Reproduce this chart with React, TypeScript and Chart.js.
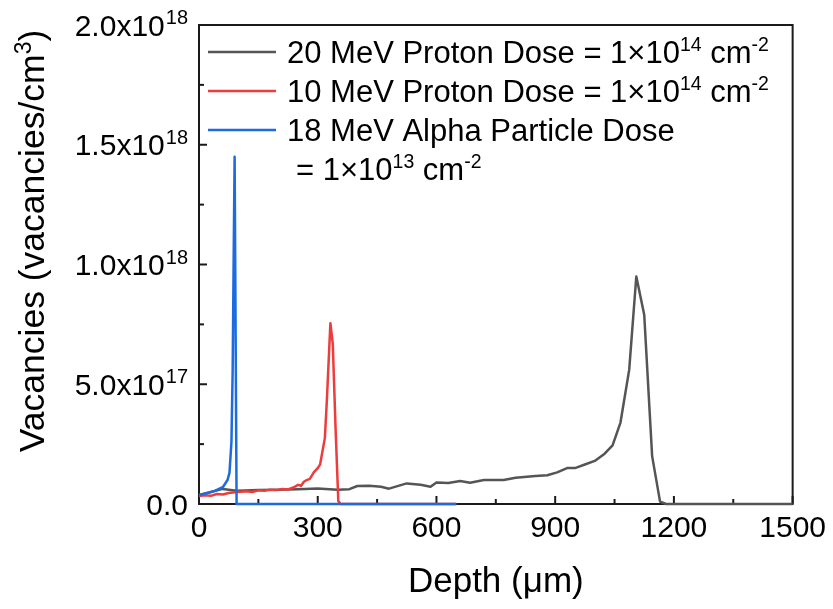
import React, { useEffect, useRef } from "react";
import { Chart, registerables } from "chart.js";

Chart.register(...registerables);

// ---- data (depth in µm, vacancies per cm^3) ----
const grayDepth = [0, 30, 60, 95, 150, 200, 250, 300, 350, 380, 400, 430, 460, 480, 525, 560, 585, 600, 630, 660, 685, 720, 770, 800, 850, 880, 905, 930, 950, 975, 1000, 1025, 1045, 1065, 1087, 1105, 1125, 1145, 1165, 1180, 1500];
const grayVac = [3.8e16, 5.0e16, 6.3e16, 5.5e16, 5.8e16, 6.0e16, 6.2e16, 6.5e16, 6.0e16, 6.2e16, 7.5e16, 7.6e16, 7.2e16, 6.4e16, 8.6e16, 8.0e16, 7.2e16, 9.0e16, 8.8e16, 9.6e16, 8.9e16, 1.0e17, 1.0e17, 1.1e17, 1.17e17, 1.2e17, 1.32e17, 1.5e17, 1.5e17, 1.65e17, 1.8e17, 2.1e17, 2.45e17, 3.4e17, 5.6e17, 9.5e17, 7.9e17, 2.0e17, 1.0e16, 0, 0];

const redDepth = [0, 15, 30, 45, 60, 75, 90, 105, 120, 135, 150, 165, 180, 195, 210, 225, 240, 250, 258, 265, 272, 280, 290, 300, 306, 312, 318, 323, 332, 338, 345, 352, 358, 650];
const redVac = [3.3e16, 3.6e16, 3.4e16, 4.2e16, 4.0e16, 4.6e16, 4.9e16, 5.1e16, 5.3e16, 5.0e16, 5.7e16, 5.5e16, 6.0e16, 5.8e16, 6.3e16, 6.1e16, 7.0e16, 8.0e16, 7.6e16, 9.3e16, 1.0e17, 1.05e17, 1.32e17, 1.5e17, 1.65e17, 2.2e17, 2.75e17, 4.3e17, 7.55e17, 6.7e17, 3.2e17, 1.2e16, 0, 0];

const blueDepth = [0, 20, 40, 61, 72, 77, 82, 85, 88, 90, 95, 650];
const blueVac = [3.7e16, 4.5e16, 5.5e16, 7.2e16, 1.0e17, 1.3e17, 2.6e17, 5.5e17, 1.1e18, 1.45e18, 0, 0];

const xTickValues = [0, 300, 600, 900, 1200, 1500];
const yTickValues = [0, 5e17, 1e18, 1.5e18, 2e18];
const yTickMantissa = ["0.0", "5.0x10", "1.0x10", "1.5x10", "2.0x10"];
const yTickExponent = ["", "17", "18", "18", "18"];

const seriesColors = ["#555555", "#EE3B3B", "#1C6CE0"];
// legend rows: [text, isSuperscript]
const legendRow1: [string, boolean][] = [["20 MeV Proton Dose = 1×10", false], ["14", true], [" cm", false], ["-2", true]];
const legendRow2: [string, boolean][] = [["10 MeV Proton Dose = 1×10", false], ["14", true], [" cm", false], ["-2", true]];
const legendRow3: [string, boolean][] = [["18 MeV Alpha Particle Dose", false]];
const legendRow4: [string, boolean][] = [["= 1×10", false], ["13", true], [" cm", false], ["-2", true]];

const xTitle = "Depth (μm)";
const yTitleMain = "Vacancies (vacancies/cm";
const yTitleSup = "3";
const yTitleEnd = ")";

const FONT = "'Liberation Sans', Arial, sans-serif";

function toPoints(xs: number[], ys: number[]) {
  return xs.map((x, i) => ({ x, y: ys[i] }));
}

function drawRich(ctx: CanvasRenderingContext2D, parts: [string, boolean][], x: number, baseline: number, size: number, supSize: number, raise: number) {
  let cx = x;
  for (const [t, sup] of parts) {
    ctx.font = `${sup ? supSize : size}px ${FONT}`;
    ctx.fillText(t, cx, sup ? baseline - raise : baseline);
    cx += ctx.measureText(t).width;
  }
}

const decorPlugin = {
  id: "decor",
  beforeDatasetsDraw(chart: any) {
    const ctx: CanvasRenderingContext2D = chart.ctx;
    const a = chart.chartArea;
    const xs = chart.scales.x;
    const ys = chart.scales.y;
    ctx.save();
    ctx.strokeStyle = "#1a1a1a";
    ctx.lineWidth = 2;
    ctx.strokeRect(a.left, a.top, a.right - a.left, a.bottom - a.top);
    for (let v = 0; v <= 1500; v += 150) {
      const px = xs.getPixelForValue(v);
      const len = v % 300 === 0 ? 8 : 5;
      ctx.beginPath();
      ctx.moveTo(px, a.bottom);
      ctx.lineTo(px, a.bottom - len);
      ctx.stroke();
    }
    for (let v = 0; v <= 2e18; v += 2.5e17) {
      const py = ys.getPixelForValue(v);
      const major = Math.abs(v / 5e17 - Math.round(v / 5e17)) < 1e-6;
      const len = major ? 8 : 5;
      ctx.beginPath();
      ctx.moveTo(a.left, py);
      ctx.lineTo(a.left + len, py);
      ctx.stroke();
    }
    ctx.restore();
  },
  afterDraw(chart: any) {
    const ctx: CanvasRenderingContext2D = chart.ctx;
    const a = chart.chartArea;
    const ys = chart.scales.y;
    ctx.save();
    ctx.fillStyle = "#000";
    ctx.textBaseline = "alphabetic";
    ctx.textAlign = "left";
    const rightEdge = a.left - 11;
    yTickValues.forEach((v, i) => {
      const py = ys.getPixelForValue(v);
      ctx.font = `20px ${FONT}`;
      const supW = yTickExponent[i] ? ctx.measureText(yTickExponent[i]).width : 0;
      ctx.font = `30px ${FONT}`;
      const mainW = ctx.measureText(yTickMantissa[i]).width;
      const mainX = rightEdge - supW - mainW - (supW ? 1 : 0);
      ctx.fillText(yTickMantissa[i], mainX, py + 10.5);
      if (supW) {
        ctx.font = `20px ${FONT}`;
        ctx.fillText(yTickExponent[i], rightEdge - supW, py - 1);
      }
    });
    // y title (rotated)
    ctx.save();
    ctx.translate(44, 241);
    ctx.rotate(-Math.PI / 2);
    ctx.font = `35.5px ${FONT}`;
    const w1 = ctx.measureText(yTitleMain).width;
    ctx.font = `23px ${FONT}`;
    const w2 = ctx.measureText(yTitleSup).width;
    ctx.font = `35.5px ${FONT}`;
    const w3 = ctx.measureText(yTitleEnd).width;
    const total = w1 + w2 + w3;
    let cx = -total / 2;
    ctx.fillText(yTitleMain, cx, 0);
    cx += w1;
    ctx.font = `23px ${FONT}`;
    ctx.fillText(yTitleSup, cx, -13);
    cx += w2;
    ctx.font = `35.5px ${FONT}`;
    ctx.fillText(yTitleEnd, cx, 0);
    ctx.restore();
    // x title
    ctx.font = `35px ${FONT}`;
    ctx.textAlign = "center";
    ctx.fillText(xTitle, (a.left + a.right) / 2, 592);
    ctx.textAlign = "left";
    // legend
    const rows = [legendRow1, legendRow2, legendRow3];
    const rowY = [52, 91, 130];
    rows.forEach((r, i) => {
      ctx.strokeStyle = seriesColors[i];
      ctx.lineWidth = 2.5;
      ctx.beginPath();
      ctx.moveTo(208, rowY[i]);
      ctx.lineTo(276, rowY[i]);
      ctx.stroke();
      ctx.fillStyle = "#000";
      drawRich(ctx, r, 287, rowY[i] + 11, 31, 19.5, 12);
    });
    drawRich(ctx, legendRow4, 296, 169 + 11, 31, 19.5, 12);
    ctx.restore();
  },
};

export default function App() {
  const ref = useRef<HTMLCanvasElement | null>(null);
  useEffect(() => {
    if (!ref.current) return;
    Chart.defaults.font.family = FONT;
    const chart = new Chart(ref.current, {
      type: "line",
      data: {
        datasets: [
          { label: "20 MeV Proton", data: toPoints(grayDepth, grayVac), borderColor: seriesColors[0], borderWidth: 2.5, pointRadius: 0, tension: 0, order: 3, borderJoinStyle: "round", clip: false } as any,
          { label: "10 MeV Proton", data: toPoints(redDepth, redVac), borderColor: seriesColors[1], borderWidth: 2.5, pointRadius: 0, tension: 0, order: 2, borderJoinStyle: "round", clip: false } as any,
          { label: "18 MeV Alpha", data: toPoints(blueDepth, blueVac), borderColor: seriesColors[2], borderWidth: 2.5, pointRadius: 0, tension: 0, order: 1, borderJoinStyle: "round", clip: false } as any,
        ],
      },
      options: {
        animation: false,
        responsive: false,
        layout: { padding: { top: 25, right: 38, left: 0, bottom: 0 } },
        plugins: { legend: { display: false }, tooltip: { enabled: false } },
        scales: {
          x: {
            type: "linear",
            min: 0,
            max: 1500,
            afterBuildTicks: (s: any) => { s.ticks = xTickValues.map((v) => ({ value: v })); },
            ticks: { autoSkip: false, maxRotation: 0, font: { size: 30 }, color: "#000", padding: 7, callback: (v: any) => String(v) },
            grid: { display: false, drawTicks: false },
            border: { display: false },
            afterFit: (s: any) => { s.height = 105; },
          },
          y: {
            type: "linear",
            min: 0,
            max: 2e18,
            ticks: { display: false },
            grid: { display: false, drawTicks: false },
            border: { display: false },
            afterFit: (s: any) => { s.width = 199; },
          },
        },
      } as any,
      plugins: [decorPlugin],
    });
    return () => chart.destroy();
  }, []);
  return (
    <div style={{ position: "fixed", left: 0, top: 0, width: 833, height: 609, background: "#fff" }}>
      <canvas ref={ref} width={833} height={609} style={{ display: "block" }} />
    </div>
  );
}
